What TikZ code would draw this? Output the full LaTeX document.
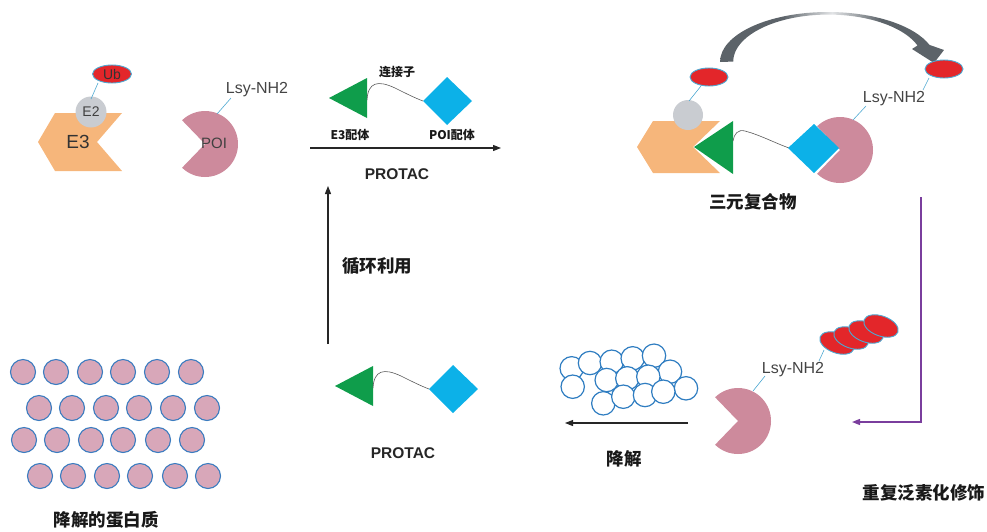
\documentclass[tikz,border=0pt]{standalone}
\usepackage{fontspec}
\setmainfont{Liberation Sans}
\newfontfamily\cjk{Noto Sans CJK SC}
\usetikzlibrary{arrows.meta,shapes.geometric}

\definecolor{peach}{HTML}{F6B67B}
\definecolor{etwo}{HTML}{C9CCD1}
\definecolor{ubred}{HTML}{E3262A}
\definecolor{ubline}{HTML}{4FA9D2}
\definecolor{poipink}{HTML}{CD8A9C}
\definecolor{ligreen}{HTML}{0F9D4B}
\definecolor{licyan}{HTML}{0CB1E8}
\definecolor{dotpink}{HTML}{D8A7B9}
\definecolor{dotblue}{HTML}{3A7CC0}
\definecolor{fragblue}{HTML}{2F7DC1}
\definecolor{cyclepurple}{HTML}{7A3E9D}
\definecolor{labelgray}{HTML}{444444}
\definecolor{arcdark}{HTML}{5C6369}
\definecolor{arclight}{HTML}{E2E4E6}

% dark arc with a pale crest in the middle
\pgfdeclarehorizontalshading{arcshade}{100bp}{%
  color(0bp)=(arcdark); color(25bp)=(arcdark); color(39bp)=(arcdark);
  color(50bp)=(arclight); color(61bp)=(arcdark); color(75bp)=(arcdark);
  color(100bp)=(arcdark)}

\tikzset{
  ubq/.style={fill=ubred, draw=ubline, line width=0.9pt},
  tether/.style={draw=ubline, line width=0.6pt},
  linker/.style={draw=gray!70!black, line width=0.6pt},
  flow/.style={draw=black!85, line width=1.1pt, -{Triangle[length=8pt,width=6pt]}},
  lsy/.style={font=\fontsize{16}{16}\selectfont, text=labelgray, inner sep=0pt},
  cjklbl/.style={font=\cjk\bfseries\fontsize{17.5}{18}\selectfont, text=black!90, inner sep=0pt},
  smallcjk/.style={font=\cjk\bfseries\fontsize{12}{12}\selectfont, text=black!90, inner sep=0pt},
  protaclbl/.style={font=\bfseries\fontsize{15.5}{16}\selectfont, text=black!85, inner sep=0pt},
  dot/.style={fill=dotpink, draw=dotblue, line width=1.1pt},
  frag/.style={fill=white, draw=fragblue, line width=1.2pt},
  pacman/.pic={
    \fill[poipink] (0,0) -- (-134:33) arc[start angle=-134, end angle=134, radius=33] -- cycle;
  },
  protac/.pic={
    \fill[ligreen] (-38,0) -- (0,-20) -- (0,20) -- cycle;
    \draw[linker] (0,2) .. controls (1,-16) and (11,-18) .. (28,-10)
                        .. controls (38,-5) and (48,0) .. (56,3);
    \fill[licyan] (56,3) -- (80,-21) -- (105,3) -- (80,27) -- cycle;
  },
}

\begin{document}
\begin{tikzpicture}[x=1pt,y=-1pt]
\useasboundingbox (0,0) rectangle (987,531);

% ---------- free E3 ligase with E2 and ubiquitin ----------
\fill[peach] (38,142) -- (55,113) -- (122,113) -- (97,142) -- (122,171) -- (55,171) -- cycle;
\node[font=\fontsize{19}{19}\selectfont, text=black!80, inner sep=0pt] (e3) at (78,142) {E3};
\node[circle, fill=etwo, minimum size=31pt, inner sep=0pt,
      font=\fontsize{14}{14}\selectfont, text=black!75] (e2) at (91,112) {E2};
\node[ellipse, ubq, minimum width=39pt, minimum height=18pt, inner sep=0pt,
      font=\fontsize{14}{14}\selectfont, text=black!80] (ub) at (112,74) {Ub};
\coordinate (ubfoot) at (98,83);
\coordinate (e2top) at (91,99);
\draw[tether] (ubfoot) -- (e2top);

% ---------- free target protein ----------
\pic at (205,144) {pacman};
\node[font=\fontsize{15}{15}\selectfont, text=black!75, inner sep=0pt] (poi) at (214,143) {POI};
\node[lsy] (lsyA) at (257,90) {Lsy-NH2};
\coordinate (poitop) at (217,114);
\coordinate (lsyAfoot) at (231,98);
\draw[tether] (poitop) -- (lsyAfoot);

% ---------- PROTAC molecule (top) ----------
\pic at (367,98) {protac};
\node[smallcjk] (linkerlbl) at (397,72) {连接子};
\node[smallcjk] (e3lig) at (350,135) {E3配体};
\node[smallcjk] (poilig) at (452,135) {POI配体};
\coordinate (fwdA) at (310,148);
\coordinate (fwdB) at (501,148);
\draw[flow] (fwdA) -- (fwdB);
\node[protaclbl] (protacA) at (397,174) {PROTAC};

% ---------- recycling arrow ----------
\coordinate (recA) at (328,344);
\coordinate (recB) at (328,186);
\draw[flow] (recA) -- (recB);
\node[cjklbl] (recycle) at (377,266) {循环利用};

% ---------- ternary complex ----------
\shade[shading=arcshade]
  (720,62) arc[start angle=180, end angle=340, x radius=108, y radius=50]
  -- (944,50) -- (934,63) -- (912,49) -- (917.5,45.5)
  arc[start angle=340, end angle=180, x radius=95, y radius=47] -- cycle;

\fill[peach] (637,147) -- (653,121) -- (720,121) -- (693,147) -- (720,173) -- (653,173) -- cycle;
\node[circle, fill=etwo, minimum size=30pt, inner sep=0pt] (e2b) at (688,115) {};
\node[ellipse, ubq, minimum width=38pt, minimum height=18pt, inner sep=0pt] (ubB) at (709,77) {};
\coordinate (ubBfoot) at (701,86);
\coordinate (e2btop) at (689,101);
\draw[tether] (ubBfoot) -- (e2btop);
\fill[ligreen] (694,147) -- (733,121) -- (733,174) -- cycle;
\pic at (840,150) {pacman};
\draw[linker] (733,141) .. controls (734,134) and (738,129) .. (745,131)
              .. controls (760,135) and (775,143) .. (789,148);
\fill[licyan] (788,148) -- (814,124) -- (839,148) -- (814,173) -- cycle;
\node[lsy] (lsyB) at (894,99) {Lsy-NH2};
\node[ellipse, ubq, minimum width=38pt, minimum height=18pt, inner sep=0pt] (ubC) at (944,69) {};
\coordinate (ubCfoot) at (929,78);
\coordinate (lsyBtop) at (923,90);
\draw[tether] (ubCfoot) -- (lsyBtop);
\coordinate (poiBtop) at (853,120);
\coordinate (lsyBfoot) at (866,106);
\draw[tether] (poiBtop) -- (lsyBfoot);
\node[cjklbl] (ternary) at (753,202) {三元复合物};

% ---------- polyubiquitination ----------
\coordinate (ubiA) at (921,197);
\coordinate (ubiC) at (921,422);
\coordinate (ubiB) at (852,422);
\draw[draw=cyclepurple, line width=1.3pt, -{Triangle[length=8pt,width=6pt]}]
  (ubiA) -- (ubiC) -- (ubiB);
\node[cjklbl] (polyub) at (924,493) {重复泛素化修饰};

% ---------- ubiquitinated target ----------
\pic at (738,421) {pacman};
\node[lsy] (lsyC) at (793,370) {Lsy-NH2};
\coordinate (poiCtop) at (753,391);
\coordinate (lsyCfoot) at (765,376);
\draw[tether] (poiCtop) -- (lsyCfoot);
\foreach \cx/\cy in {837/343, 851/338, 866/332, 881/326}
  \draw[ubq, rotate around={-20:(\cx,\cy)}] (\cx,\cy) ellipse[x radius=18, y radius=10];
\coordinate (chainfoot) at (824,350);
\coordinate (lsyCtop) at (819,361);
\draw[tether] (chainfoot) -- (lsyCtop);

% ---------- degradation into fragments ----------
\foreach \cx/\cy in {571.7/368.3, 590/363, 611.7/361.7, 632.7/358.3, 654/355.7,
                     670/371.7, 686/388.3, 572.7/386.7, 606.7/380, 627.3/378.3,
                     648.3/376.7, 603.3/403.3, 623.3/396.7, 645/395, 663.3/391.7}
  \draw[frag] (\cx,\cy) circle[radius=11.7];
\coordinate (degA) at (688,423);
\coordinate (degB) at (565,423);
\draw[flow] (degA) -- (degB);
\node[cjklbl] (degrade) at (624,459) {降解};

% ---------- released PROTAC ----------
\pic at (373,386) {protac};
\node[protaclbl] (protacB) at (403,453) {PROTAC};

% ---------- degraded protein pool ----------
\foreach \cx in {23,56,90,123,157,191} \draw[dot] (\cx,372) circle[radius=12.5];
\foreach \cx in {39,72,106,139,173,207} \draw[dot] (\cx,408) circle[radius=12.5];
\foreach \cx in {24,57,91,123,158,192} \draw[dot] (\cx,440) circle[radius=12.5];
\foreach \cx in {40,73,107,140,175,208} \draw[dot] (\cx,476) circle[radius=12.5];
\node[cjklbl] (pool) at (106,520) {降解的蛋白质};

\end{tikzpicture}
\end{document}
